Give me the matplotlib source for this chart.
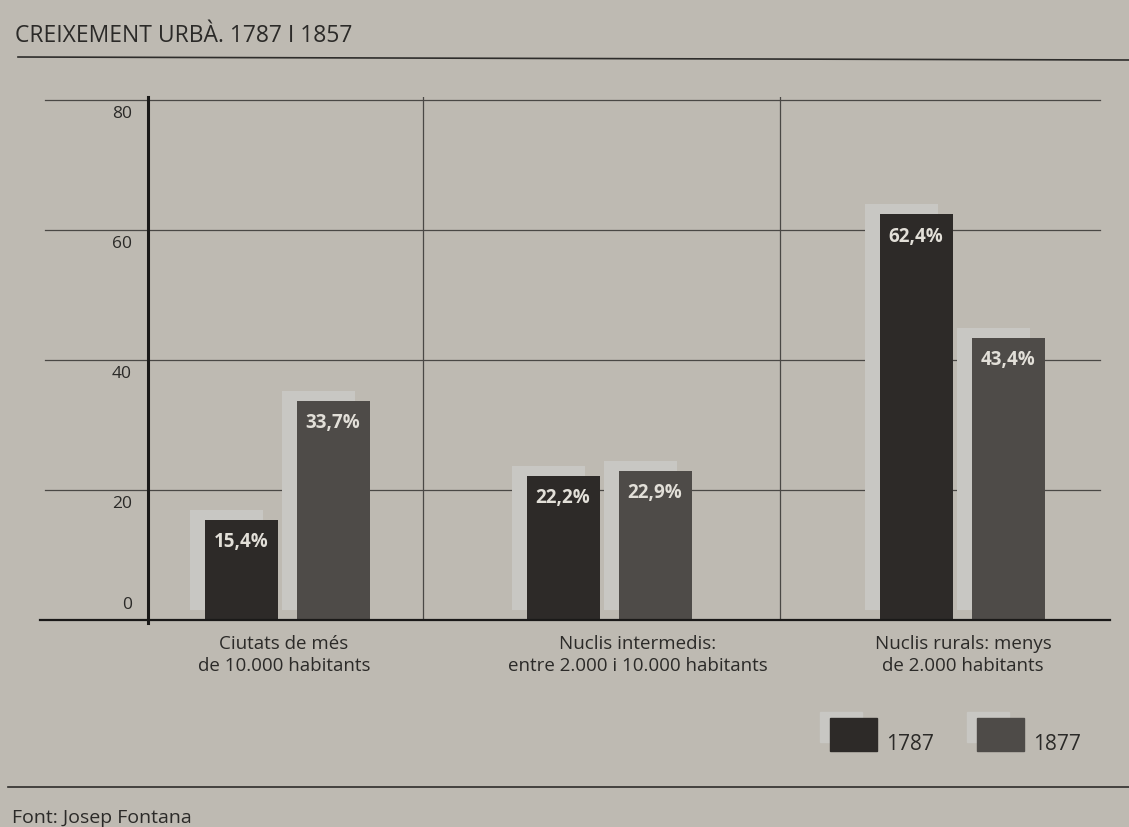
import matplotlib.pyplot as plt
from matplotlib.patches import Rectangle

plt.rcParams['font.family'] = ['Open Sans', 'DejaVu Sans']

# --------------------
# Data
# --------------------
categories = ["Ciutats de més\nde 10.000 habitants",
              "Nuclis intermedis:\nentre 2.000 i 10.000 habitants",
              "Nuclis rurals: menys\nde 2.000 habitants"]
series_names = ["1787", "1877"]
values_1787 = [15.4, 22.2, 62.4]
values_1877 = [33.7, 22.9, 43.4]
bar_labels_1787 = ["15,4%", "22,2%", "62,4%"]
bar_labels_1877 = ["33,7%", "22,9%", "43,4%"]
yticks = [0, 20, 40, 60, 80]

title = "CREIXEMENT URBÀ. 1787 I 1857"
source = "Font: Josep Fontana"

# --------------------
# Style / layout
# --------------------
W, H = 1129, 827
BG = "#bebab2"
C1787 = "#2d2a28"
C1877 = "#4e4b48"
SHADOW = "#c8c7c3"
TXT = "#2b2a28"

group_centers = [287, 609, 962]
label_centers = [284, 638, 963]
separators = [423, 780]
bar_w = 73
bar_off = 46
px_per_unit = 6.5
sh_dx, sh_dy = -15, 10 / px_per_unit

fig = plt.figure(figsize=(W / 100, H / 100), dpi=100)
fig.patch.set_facecolor(BG)

# page overlay in pixel coordinates
page = fig.add_axes([0, 0, 1, 1])
page.set_xlim(0, W)
page.set_ylim(H, 0)
page.axis("off")
page.set_zorder(0)

# main plotting axes: x in pixels, y in data units
y0_px, ytop_px = 620, 97
ax = fig.add_axes([148 / W, 1 - y0_px / H, (1110 - 148) / W, (y0_px - ytop_px) / H])
ax.set_xlim(148, 1110)
ax.set_ylim(0, (y0_px - ytop_px) / px_per_unit)
ax.patch.set_alpha(0)
ax.set_zorder(1)
for s in ax.spines.values():
    s.set_visible(False)
ax.set_xticks([])
ax.set_yticks([])

# gridlines (extend left of the axis)
for v in yticks[1:]:
    ax.plot([45, 1100], [v, v], color="#4a4845", lw=0.9, clip_on=False, zorder=1)
    ax.annotate(str(v), (132, v), xytext=(0, -10), textcoords="offset points",
                ha="right", va="center", fontsize=12.5, color=TXT, annotation_clip=False)
ax.annotate("0", (132, 0), xytext=(0, 11), textcoords="offset points",
            ha="right", va="center", fontsize=12.5, color=TXT, annotation_clip=False)

# vertical separators
for x in separators:
    ax.plot([x, x], [0, ax.get_ylim()[1]], color="#4a4845", lw=0.9, zorder=1)

# y axis line and baseline
ax.plot([148, 148], [-0.5, ax.get_ylim()[1]], color="#1a1918", lw=2.2, clip_on=False, zorder=4)
ax.plot([40, 1110], [0, 0], color="#1a1918", lw=1.6, clip_on=False, zorder=4)

# bars with offset shadows
for xc, v1, v2, l1, l2 in zip(group_centers, values_1787, values_1877,
                              bar_labels_1787, bar_labels_1877):
    for x, v, c, lab in [(xc - bar_off, v1, C1787, l1), (xc + bar_off, v2, C1877, l2)]:
        ax.bar(x + sh_dx, v, width=bar_w, bottom=sh_dy, color=SHADOW, zorder=2)
        ax.bar(x, v, width=bar_w, color=c, zorder=3)
        ax.annotate(lab, (x, v), xytext=(0, -16), textcoords="offset points",
                    ha="center", va="center", fontsize=13.5, fontweight="bold",
                    color="#e2dfd8", zorder=5)

# category labels
for xc, cat in zip(label_centers, categories):
    page.text(xc, 655, cat, ha="center", va="center", fontsize=13.5,
              color=TXT, linespacing=1.25)

# title and rules
page.text(15, 36, title, ha="left", va="center", fontsize=16.5, color=TXT)
page.plot([18, W], [57, 60], color="#2e2d2b", lw=1.2)
page.plot([8, W], [787, 787], color="#2e2d2b", lw=1.2)
page.text(12, 818, source, ha="left", va="center", fontsize=14, color=TXT)

# legend
for (lx, name, c) in [(830, series_names[0], C1787), (977, series_names[1], C1877)]:
    page.add_patch(Rectangle((lx - 10, 712), 42, 30, color=SHADOW, zorder=1))
    page.add_patch(Rectangle((lx, 718), 47, 33, color=c, zorder=2))
    page.text(lx + 56, 744, name, ha="left", va="center", fontsize=15, color=TXT)

fig.savefig("out.png", dpi=100, facecolor=BG)
